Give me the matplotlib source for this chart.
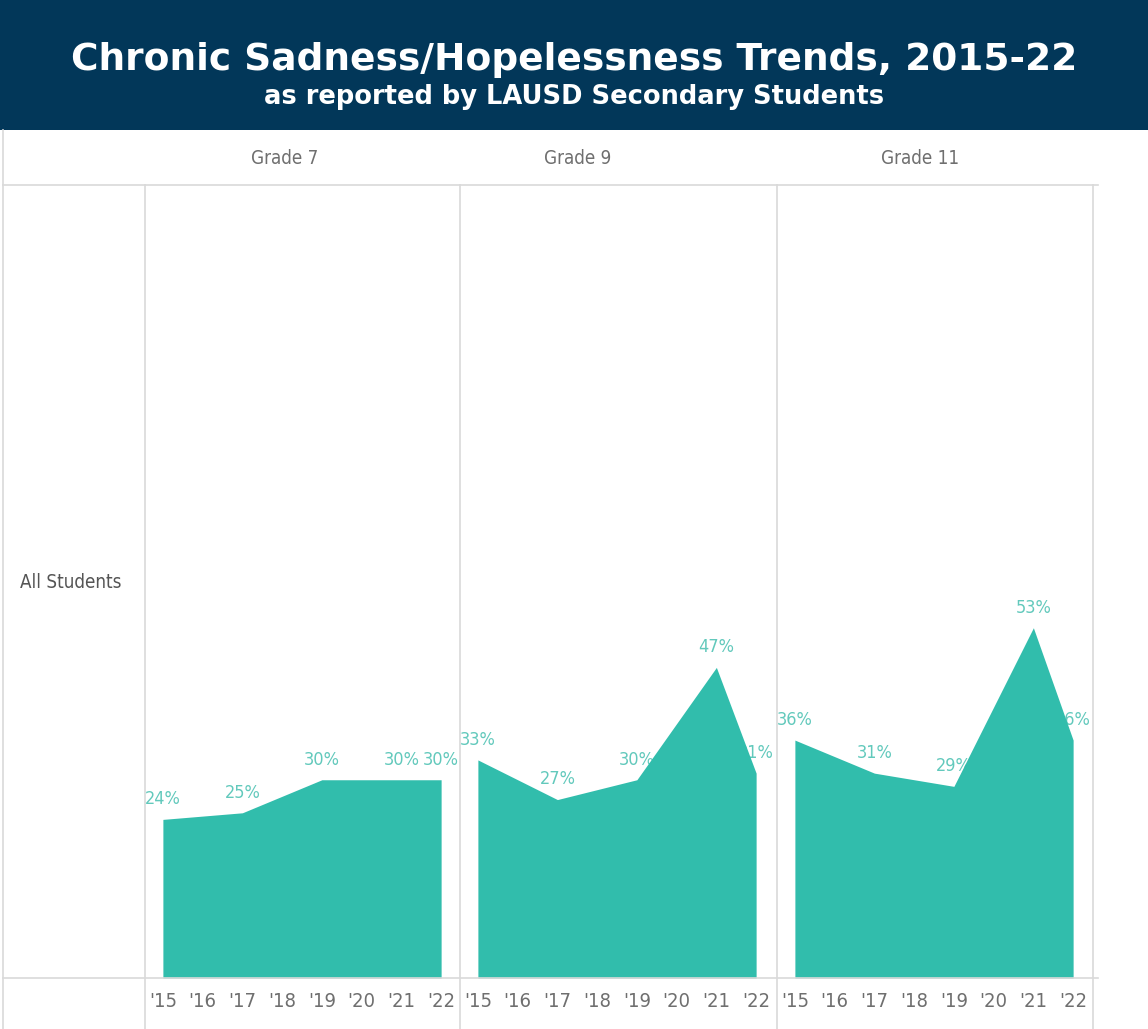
import matplotlib
matplotlib.use("Agg")
import matplotlib.pyplot as plt
from matplotlib.lines import Line2D
from matplotlib.patches import Rectangle

W, H = 1148, 1029
NAVY = "#023759"
TEAL = "#31bdac"
LABEL_TEAL = "#62c9bc"
GRID = "#d9d9d9"
GRAY_TXT = "#6f6f6f"
NARROW = dict(family="DejaVu Sans", fontstretch="condensed")

years = [2015, 2016, 2017, 2018, 2019, 2020, 2021, 2022]
year_labels = ["'15", "'16", "'17", "'18", "'19", "'20", "'21", "'22"]
survey_years = [2015, 2017, 2019, 2021, 2022]
grades = ["Grade 7", "Grade 9", "Grade 11"]
grade7 = [24, 25, 30, 30, 30]
grade9 = [33, 27, 30, 47, 31]
grade11 = [36, 31, 29, 53, 36]
series = [grade7, grade9, grade11]


def fx(px):
    return px / W


def fy(py):
    return 1 - py / H


fig = plt.figure(figsize=(W / 100, H / 100), dpi=100)
fig.patch.set_facecolor("white")

# header band
fig.add_artist(Rectangle((0, fy(130)), 1, 130 / H, transform=fig.transFigure,
                         facecolor=NAVY, edgecolor="none"))
fig.text(0.5, fy(60), "Chronic Sadness/Hopelessness Trends, 2015-22",
         color="white", fontsize=27, fontweight="bold", ha="center", va="center")
fig.text(0.5, fy(97), "as reported by LAUSD Secondary Students",
         color="white", fontsize=18.5, fontweight="bold", ha="center", va="center")

# table rules
for y in (185, 978):
    fig.add_artist(Line2D([fx(3), fx(1098)], [fy(y), fy(y)], color=GRID, lw=1.2))
fig.add_artist(Line2D([fx(3), fx(3)], [fy(130), fy(1029)], color=GRID, lw=1.2))
for x in (145, 460, 777, 1093):
    fig.add_artist(Line2D([fx(x), fx(x)], [fy(185), fy(1029)], color=GRID, lw=1.2))

fig.text(fx(20), fy(583), "All Students", color="#555555", fontsize=13.5,
         ha="left", va="center", **NARROW)

panel_left = [145, 460, 777]
header_x = [285, 578, 920]
panel_w = 316
for left, hx, name, vals in zip(panel_left, header_x, grades, series):
    ax = fig.add_axes([fx(left), fy(978), panel_w / W, (978 - 185) / H])
    ax.set_facecolor("none")
    ax.fill_between(survey_years, vals, 0, color=TEAL, lw=0, zorder=3)
    for yr, v in zip(survey_years, vals):
        ax.annotate(f"{v}%", (yr, v), xytext=(0, 8), textcoords="offset points",
                    ha="center", va="bottom", color=LABEL_TEAL, fontsize=13,
                    zorder=2, **NARROW)
    ax.set_xlim(2015 - 0.45, 2022 + 0.5)
    ax.set_ylim(0, 120)
    ax.set_yticks([])
    ax.set_xticks(years)
    ax.set_xticklabels(year_labels, fontsize=14.5, color=GRAY_TXT, **NARROW)
    ax.tick_params(axis="x", length=0, pad=10)
    for s in ax.spines.values():
        s.set_visible(False)
    fig.text(fx(hx), fy(158), name, color=GRAY_TXT, fontsize=13.5,
             ha="center", va="center", **NARROW)

fig.savefig("out.png", dpi=100, facecolor="white")
